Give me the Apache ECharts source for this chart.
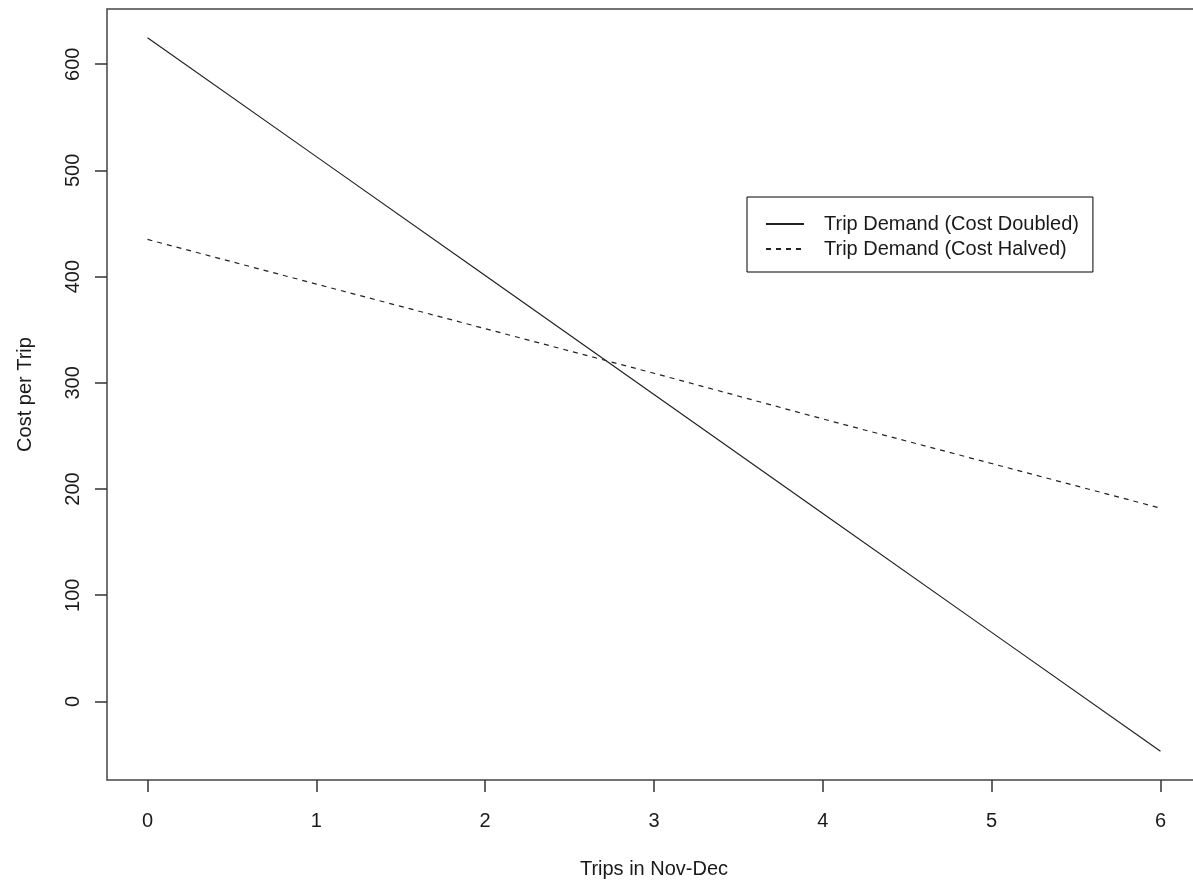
<!DOCTYPE html>
<html>
<head>
<meta charset="utf-8">
<script src="https://cdn.jsdelivr.net/npm/echarts@6/dist/echarts.min.js"></script>
<style>html,body{margin:0;padding:0;background:#fff;}#chart{width:1193px;height:880px;}</style>
</head>
<body>
<div id="chart"></div>
<script>
// Data
const trips = [0, 1, 2, 3, 4, 5, 6];
const costDoubled = [625, 513, 401, 289, 177, 65, -47];
const costHalved = [435, 393, 351, 309, 266, 224, 182];
const xTicks = [0, 1, 2, 3, 4, 5, 6];
const yTicks = [0, 100, 200, 300, 400, 500, 600];
const seriesNames = ['Trip Demand (Cost Doubled)', 'Trip Demand (Cost Halved)'];
const xTitle = 'Trips in Nov-Dec';
const yTitle = 'Cost per Trip';

const FONT = '"Liberation Sans", Arial, sans-serif';
const TXT = '#1a1a1a';
const chart = echarts.init(document.getElementById('chart'), null, {renderer: 'canvas'});
chart.setOption({
  animation: false,
  backgroundColor: '#fff',
  textStyle: {fontFamily: FONT},
  grid: {
    left: 107, top: 9, width: 1094, height: 771,
    outerBoundsMode: 'none', containLabel: false,
    show: true, borderColor: '#444', borderWidth: 1.5, backgroundColor: 'transparent'
  },
  legend: {
    orient: 'vertical',
    left: 747, top: 197,
    padding: [17, 14, 13, 18],
    itemWidth: 38, itemHeight: 14, itemGap: 5,
    borderColor: '#000', borderWidth: 1, backgroundColor: '#fff',
    data: seriesNames,
    itemStyle: {opacity: 0},
    textStyle: {fontFamily: FONT, fontSize: 20, lineHeight: 20, color: TXT, padding: [0, 0, 0, 15]}
  },
  xAxis: {
    type: 'value', min: -0.24, max: 6.24,
    name: xTitle, nameLocation: 'middle', nameGap: 79,
    nameTextStyle: {fontFamily: FONT, fontSize: 20, color: TXT},
    axisLine: {show: false, onZero: false},
    axisTick: {show: true, inside: false, length: 12, customValues: xTicks, lineStyle: {color: '#333', width: 1.5}},
    axisLabel: {customValues: xTicks, margin: 31, fontFamily: FONT, fontSize: 20, color: TXT},
    splitLine: {show: false}
  },
  yAxis: {
    type: 'value', min: -74, max: 652,
    name: yTitle, nameLocation: 'middle', nameGap: 72, nameRotate: 90,
    nameTextStyle: {fontFamily: FONT, fontSize: 20, color: TXT},
    axisLine: {show: false, onZero: false},
    axisTick: {show: true, inside: false, length: 12, customValues: yTicks, lineStyle: {color: '#333', width: 1.5}},
    axisLabel: {customValues: yTicks, margin: 24, rotate: 90, fontFamily: FONT, fontSize: 20, color: TXT},
    splitLine: {show: false}
  },
  series: [
    {
      name: seriesNames[0], type: 'line', symbol: 'none',
      data: trips.map((x, i) => [x, costDoubled[i]]),
      lineStyle: {color: '#222', width: 1.2, type: 'solid'},
      itemStyle: {color: '#222'}
    },
    {
      name: seriesNames[1], type: 'line', symbol: 'none',
      data: trips.map((x, i) => [x, costHalved[i]]),
      lineStyle: {color: '#222', width: 1.2, type: [5, 5]},
      itemStyle: {color: '#222'}
    }
  ]
});
</script>
</body>
</html>
